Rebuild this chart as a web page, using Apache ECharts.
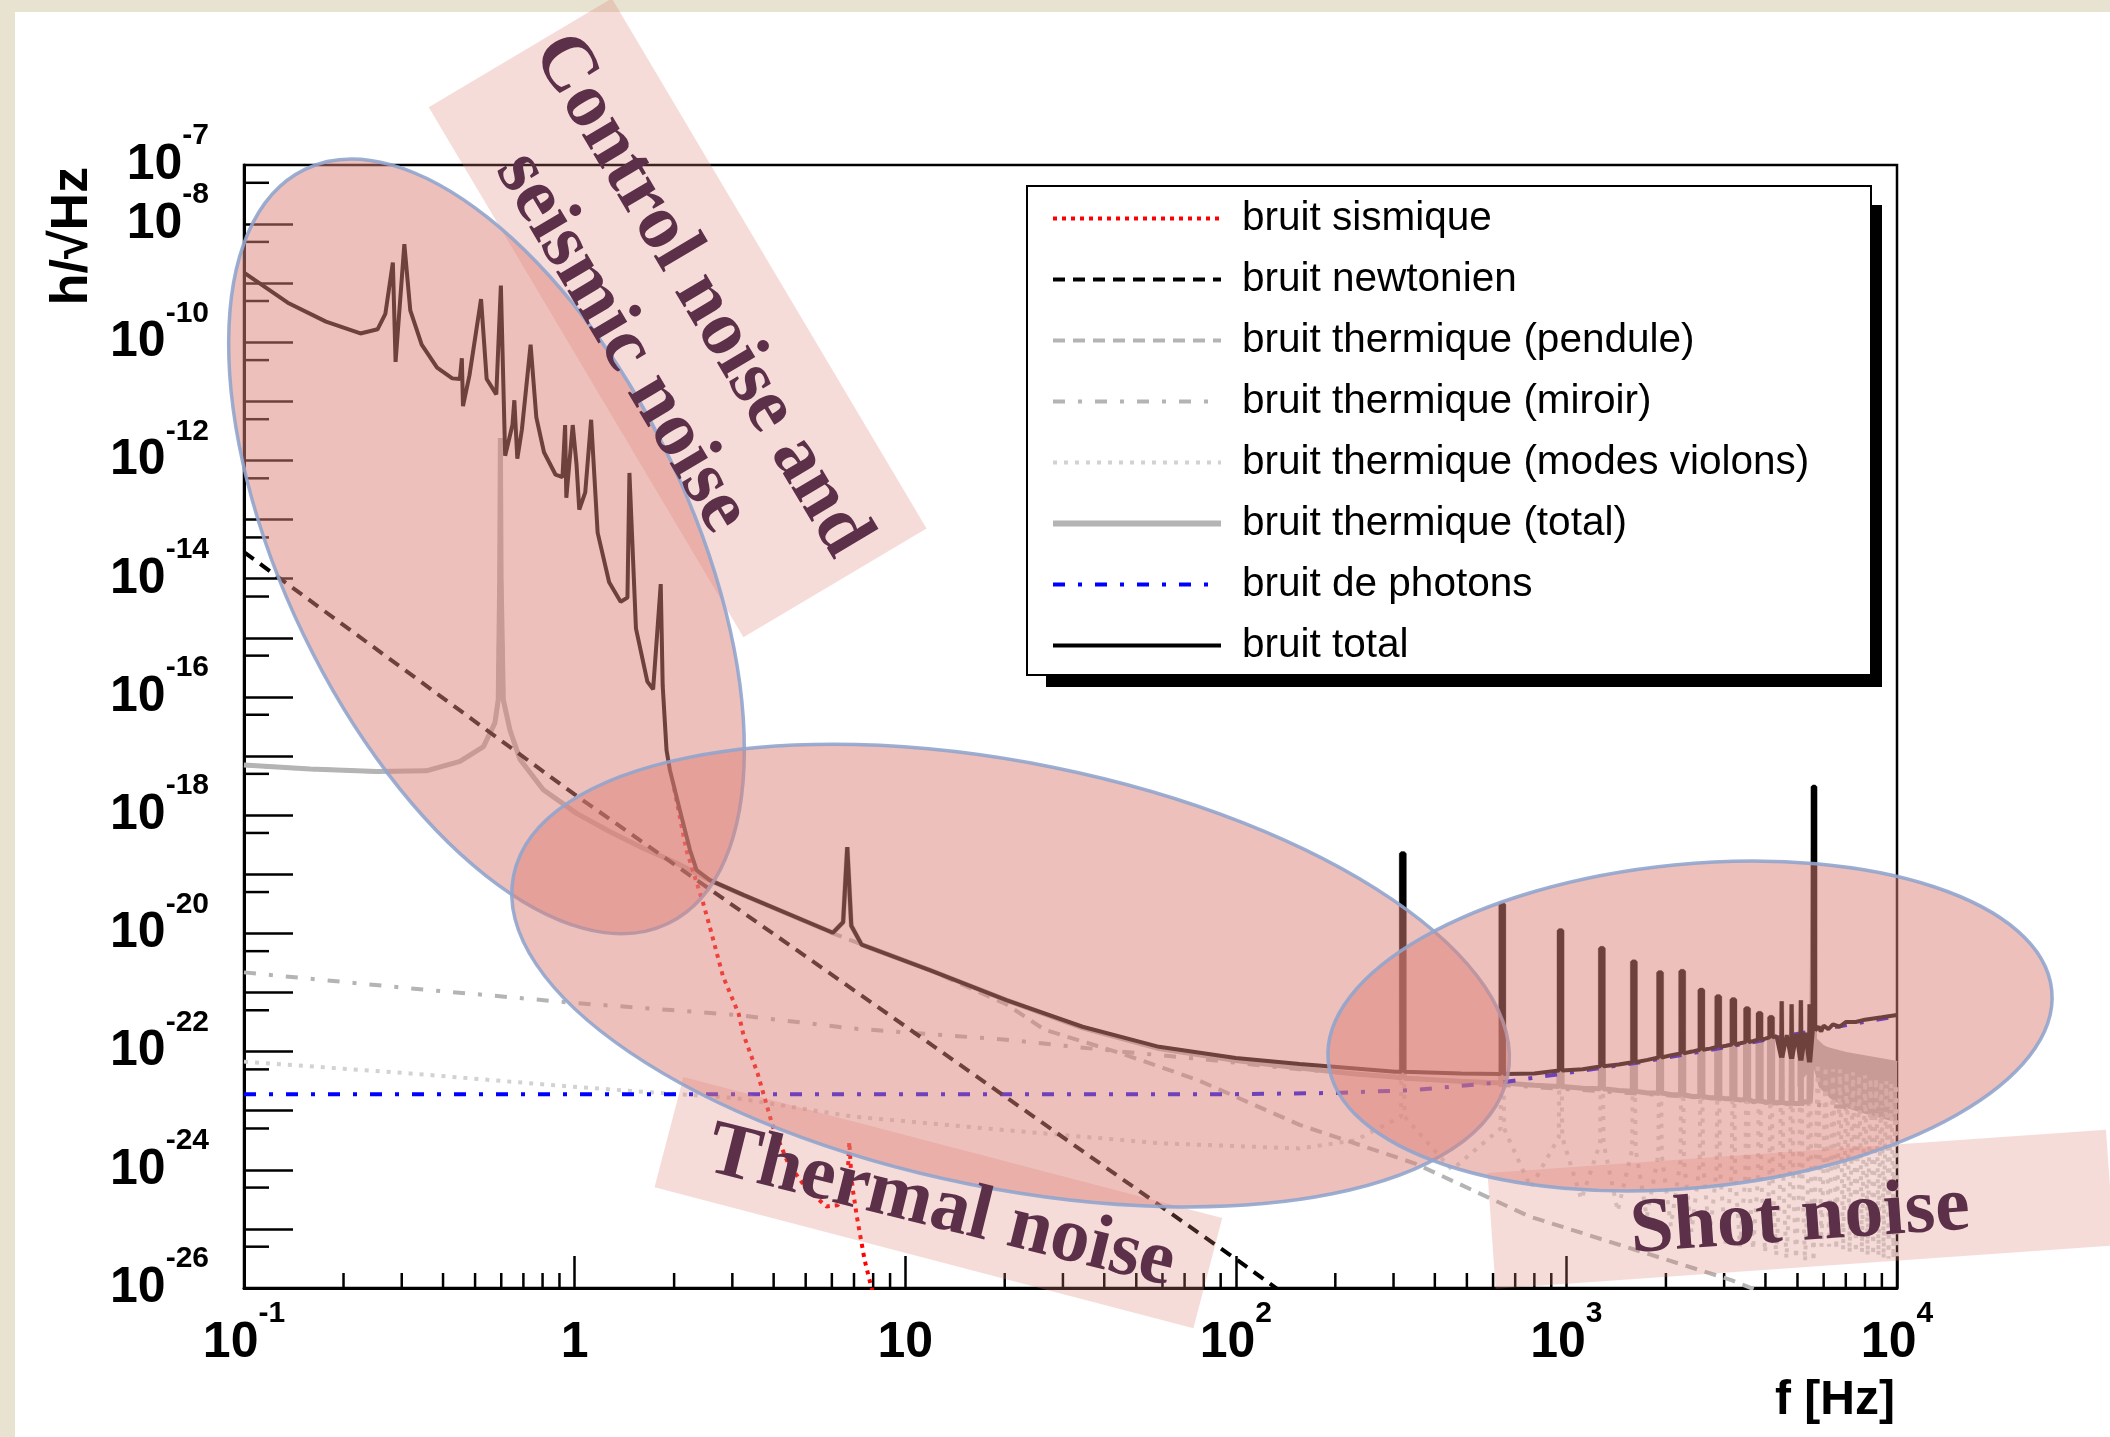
<!DOCTYPE html>
<html>
<head>
<meta charset="utf-8">
<script src="https://cdn.jsdelivr.net/npm/echarts@6/dist/echarts.min.js"></script>
<style>
  html, body { margin: 0; padding: 0; width: 2110px; height: 1437px; overflow: hidden; background: #e8e2d0; }
  #paper { position: absolute; left: 15px; top: 12px; width: 2095px; height: 1425px; background: #fff; }
  #chart { position: absolute; left: 0; top: 0; width: 2110px; height: 1437px; }
</style>
</head>
<body>
<div id="paper"></div>
<div id="chart"></div>
<script>
// frequencies in Hz, amplitudes given as log10(h / sqrt(Hz))

// bruit total (low-frequency part + smooth baseline)
var totalF = [0.1, 0.1356, 0.177, 0.225, 0.2535, 0.2676, 0.282, 0.2874, 0.3055, 0.3184, 0.3447, 0.3837, 0.4266, 0.4498, 0.456, 0.4596, 0.4808, 0.5212, 0.542, 0.5796, 0.5984, 0.6165, 0.6486, 0.6572, 0.671, 0.693, 0.736, 0.766, 0.808, 0.876, 0.919, 0.936, 0.944, 0.987, 1.013, 1.033, 1.077, 1.122, 1.174, 1.272, 1.378, 1.445, 1.465, 1.533, 1.66, 1.728, 1.822, 1.847, 1.897, 1.941, 2.08, 2.234, 2.339, 2.564, 3.236, 6.04, 6.49, 6.68, 6.87, 7.38, 11.86, 20.23, 34.4, 58.6, 100, 156, 304, 480, 800, 1120, 1440, 1760, 2080, 2400, 2720, 3040, 3360, 3680, 4000, 4320, 4640, 4960, 5280, 5560, 5560, 5660, 5660, 5800, 5900, 6000, 6200, 6400, 6700, 7000, 7500, 8000, 9000, 10000];
var totalLogH = [-8.82, -9.33, -9.65, -9.85, -9.78, -9.52, -8.65, -10.33, -8.34, -9.46, -10.04, -10.43, -10.61, -10.62, -10.27, -11.08, -10.56, -9.27, -10.62, -10.88, -9.04, -11.92, -11.40, -10.98, -11.97, -11.47, -10.04, -11.27, -11.86, -12.24, -12.28, -11.40, -12.63, -11.40, -12.05, -12.83, -12.54, -11.31, -13.22, -14.06, -14.39, -14.32, -12.21, -14.84, -15.74, -15.87, -14.09, -15.81, -16.90, -17.23, -17.91, -18.59, -18.93, -19.10, -19.35, -19.99, -19.81, -18.54, -19.87, -20.19, -20.62, -21.13, -21.58, -21.92, -22.11, -22.21, -22.34, -22.37, -22.37, -22.30, -22.22, -22.14, -22.06, -22.00, -21.95, -21.90, -21.86, -21.82, -21.78, -21.74, -21.72, -21.70, -21.68, -21.66, -17.52, -17.52, -21.64, -21.58, -21.66, -21.56, -21.62, -21.54, -21.58, -21.50, -21.50, -21.46, -21.42, -21.38];

// violin-mode harmonics (spikes)
var harmF = [320, 640, 960, 1280, 1600, 1920, 2240, 2560, 2880, 3200, 3520, 3840, 4160];
var harmTop = [-18.65, -19.51, -19.95, -20.25, -20.48, -20.66, -20.64, -20.96, -21.07, -21.12, -21.27, -21.35, -21.42];
var harmBase = [-22.34, -22.38, -22.32, -22.25, -22.18, -22.10, -22.03, -21.97, -21.92, -21.88, -21.84, -21.80, -21.76];
var harmThermBase = [-22.45, -22.53, -22.59, -22.63, -22.67, -22.70, -22.73, -22.76, -22.78, -22.80, -22.81, -22.83, -22.85];
// dense cluster of higher violin harmonics below the 5.6 kHz mirror mode
var clusterF = [4480, 4800, 5120, 5440];
var clusterTop = [-21.15, -21.20, -21.13, -21.20];
var clusterBase = [-22.10, -22.12, -22.15, -22.18];
var clusterThermBase = [-22.86, -22.87, -22.88, -22.86];

// bruit thermique (total)
var thermF = [0.1, 0.1585, 0.252, 0.356, 0.45, 0.53, 0.574, 0.5875, 0.5935, 0.5963, 0.5993, 0.6087, 0.6374, 0.684, 0.804, 1.014, 1.279, 1.613, 2.032, 2.564, 3.236, 6.04, 6.49, 6.68, 6.87, 7.38, 11.86, 20.23, 34.4, 58.6, 100, 156, 230, 304, 480, 800, 1120, 1440, 1760, 2080, 2400, 2720, 3040, 3360, 3680, 4000, 4320, 4640, 4960, 5280, 5500, 5610, 5630, 6000, 7000, 10000];
var thermLogH = [-17.15, -17.22, -17.26, -17.25, -17.09, -16.84, -16.44, -16.05, -14.0, -11.62, -14.0, -16.05, -16.56, -17.06, -17.57, -17.97, -18.28, -18.56, -18.81, -19.10, -19.35, -19.99, -19.81, -18.54, -19.87, -20.19, -20.62, -21.13, -21.60, -21.95, -22.15, -22.28, -22.38, -22.43, -22.50, -22.57, -22.62, -22.66, -22.70, -22.73, -22.76, -22.78, -22.80, -22.82, -22.85, -22.86, -22.87, -22.88, -22.88, -22.85, -22.60, -17.52, -21.80, -21.95, -22.05, -22.20];

// noisy band of the thermal total above the 5.6 kHz mirror mode
var bandF = [5000, 5300, 5610, 5800, 6300, 7000, 8000, 10000];
var bandUpper = [-22.0, -21.85, -21.75, -21.85, -21.95, -22.02, -22.10, -22.20];
var bandLower = [-22.6, -22.4, -22.3, -22.6, -22.8, -22.95, -23.05, -23.20];

// bruit thermique (pendule)
var pendF = [0.1, 0.1585, 0.252, 0.356, 0.45, 0.53, 0.574, 0.5875, 0.5935, 0.5963, 0.5993, 0.6087, 0.6374, 0.684, 0.804, 1.014, 1.279, 1.613, 2.032, 2.564, 3.236, 6.04, 11.86, 20.23, 26.4, 45, 76.6, 156, 347, 773, 3170, 4000];
var pendLogH = [-17.15, -17.22, -17.26, -17.25, -17.09, -16.84, -16.44, -16.05, -14.0, -11.62, -14.0, -16.05, -16.56, -17.06, -17.57, -17.97, -18.28, -18.56, -18.81, -19.10, -19.35, -20.0, -20.62, -21.20, -21.63, -22.03, -22.48, -23.24, -23.89, -24.79, -25.87, -26.10];

// bruit thermique (miroir)
var mirrorF = [0.1, 0.318, 1.014, 3.09, 6.96, 20.23, 45, 76.6, 156, 659, 5000, 10000];
var mirrorLogH = [-20.66, -20.93, -21.18, -21.38, -21.61, -21.80, -22.0, -22.12, -22.30, -22.57, -22.88, -23.0];

// bruit thermique (modes violons)
var violinF = [0.1, 0.318, 1.014, 3.09, 6.96, 20.23, 58.6, 156, 230];
var violinLogH = [-22.17, -22.37, -22.60, -22.79, -23.10, -23.33, -23.55, -23.64, -23.50];
var violinHarmF = [320, 640, 960, 1280, 1600, 1920, 2240, 2560, 2880, 3200, 3520, 3840, 4160, 4480, 4800, 5120, 5440, 5760, 6080, 6400, 6720, 7040, 7360, 7680, 8000, 8320, 8640, 8960, 9280, 9600, 9920];
var violinTop = [-18.65, -19.51, -19.95, -20.25, -20.48, -20.66, -20.64, -20.96, -21.07, -21.12, -21.27, -21.35, -21.42, -21.15, -21.20, -21.13, -21.20, -22.20, -22.25, -22.30, -22.30, -22.35, -22.35, -22.40, -22.40, -22.45, -22.45, -22.50, -22.50, -22.55, -22.55];
var violinSkirt = [-23.1, -23.3, -23.45, -23.55, -23.65, -23.75, -23.85, -23.9, -24.0, -24.05, -24.1, -24.15, -24.2, -24.25, -24.3, -24.3, -24.35, -23.6, -23.7, -23.75, -23.8, -23.85, -23.9, -23.95, -24.0, -24.0, -24.05, -24.1, -24.1, -24.15, -24.15];
var violinDipF = [450, 780, 1110, 1430, 1750, 2070, 2390, 2710, 3030, 3350, 3670, 3990, 4310, 4630, 4950, 5270, 5590, 5910, 6230, 6550, 6870, 7190, 7510, 7830, 8150, 8470, 8790, 9110, 9430, 9750, 10070];
var violinDipLogH = [-24.0, -24.3, -24.5, -24.7, -24.8, -24.95, -25.05, -25.15, -25.25, -25.3, -25.35, -25.4, -25.45, -25.5, -25.5, -25.55, -25.55, -25.3, -25.3, -25.35, -25.35, -25.4, -25.4, -25.4, -25.45, -25.45, -25.45, -25.5, -25.5, -25.5, -25.5];

// bruit de photons
var photonF = [0.1, 100, 200, 347, 659, 1009, 1718, 2931, 4989, 10000];
var photonLogH = [-22.72, -22.72, -22.70, -22.65, -22.51, -22.36, -22.17, -21.94, -21.70, -21.40];

// bruit sismique
var seismicF = [2.0, 2.178, 2.449, 2.564, 2.812, 3.131, 3.236, 3.578, 3.978, 4.426, 5.058, 5.781, 6.252, 6.683, 6.776, 6.871, 6.95, 7.145, 7.54, 7.845, 8.04];
var seismicLogH = [-17.55, -18.59, -19.49, -19.89, -20.73, -21.35, -21.70, -22.37, -23.27, -23.89, -24.34, -24.62, -24.60, -24.20, -23.53, -24.10, -24.35, -24.80, -25.53, -25.92, -26.15];

// bruit newtonien
var newtonF = [0.1, 1, 10, 100, 140];
var newtonLogH = [-13.55, -17.65, -21.57, -25.51, -26.10];

// axis ticks (decades) and minor ticks
var xDecades = [0.1, 1, 10, 100, 1000];
var xMinorMant = [2, 3, 4, 5, 6, 7, 8, 9];
var yMinorTicks = [];
for (var n = -26; n <= -8; n++) yMinorTicks.push(Math.log10(5) + n);
var xMinorTicks = [];
xDecades.forEach(function (d) {
  xMinorMant.forEach(function (m) { xMinorTicks.push(Math.log10(m * d)); });
});

function pairs(f, h) {
  return f.map(function (v, i) { return [Math.log10(v), h[i]]; });
}
function byX(a, b) { return a[0] - b[0]; }
// flat-topped narrow resonance bars
function addBars(pts, f, top, base, w) {
  f.forEach(function (v, i) {
    var l = Math.log10(v * (1 - w)), r = Math.log10(v * (1 + w));
    pts.push([l, base[i]], [l + 1e-7, top[i]], [r - 1e-7, top[i]], [r, base[i]]);
  });
  return pts;
}
// sharp triangular resonances
function addPeaks(pts, f, top, base, w) {
  f.forEach(function (v, i) {
    pts.push([Math.log10(v * (1 - w)), base[i]], [Math.log10(v), top[i]], [Math.log10(v * (1 + w)), base[i]]);
  });
  return pts;
}

var totalData = addPeaks(addBars(pairs(totalF, totalLogH), harmF, harmTop, harmBase, 0.011),
  clusterF, clusterTop, clusterBase, 0.004).sort(byX);
var thermData = addPeaks(addBars(pairs(thermF, thermLogH), harmF, harmTop, harmThermBase, 0.011),
  clusterF, clusterTop, clusterThermBase, 0.004).sort(byX);
var violinData = pairs(violinF, violinLogH);
violinHarmF.forEach(function (v, i) {
  violinData.push([Math.log10(v * 0.988), violinSkirt[i]], [Math.log10(v), violinTop[i]],
    [Math.log10(v * 1.012), violinSkirt[i]], [Math.log10(violinDipF[i]), violinDipLogH[i]]);
});

var FONT = 'Liberation Sans';
var rich = {
  b: { fontFamily: FONT, fontWeight: 'bold', fontSize: 50, lineHeight: 50, color: '#000' },
  s: { fontFamily: FONT, fontWeight: 'bold', fontSize: 30, lineHeight: 30, padding: [0, 0, 58, 0], color: '#000' },
  p: { fontFamily: FONT, fontWeight: 'bold', fontSize: 50, lineHeight: 50, padding: [19, 0, 19, 0], color: '#000' }
};
function powLabel(k) { return '{b|10}{s|' + k + '}'; }

var grey = '#b4b4b4';
var pink = 'rgba(221,130,120,0.5)';
var pinkLight = 'rgba(221,130,120,0.28)';
var rim = 'rgba(145,165,205,0.9)';
var ink = '#5c3049';

function lineSeries(name, data, color, width, type) {
  return {
    name: name, type: 'line', data: data, symbol: 'none', showSymbol: false,
    silent: true, animation: false,
    lineStyle: { color: color, width: width, type: type || 'solid', cap: 'butt' },
    itemStyle: { color: color }
  };
}

var chart = echarts.init(document.getElementById('chart'));
chart.setOption({
  animation: false,
  grid: { left: 244, top: 165, right: 213, bottom: 149, show: true, borderColor: '#000', borderWidth: 2.5, backgroundColor: 'transparent' },
  xAxis: {
    type: 'value', min: -1, max: 4, interval: 1,
    axisLine: { show: true, onZero: false, lineStyle: { color: '#000', width: 3 } },
    axisTick: { show: true, inside: true, length: 32, lineStyle: { color: '#000', width: 2.5 } },
    splitLine: { show: false },
    axisLabel: {
      margin: 30, rich: rich, showMinLabel: true, showMaxLabel: true,
      formatter: function (v) {
        var k = Math.round(v);
        if (k === 0) return '{p|1}';
        if (k === 1) return '{p|10}';
        return powLabel(k);
      }
    }
  },
  yAxis: [{
    type: 'value', min: -26, max: -7, interval: 1, position: 'left',
    axisLine: { show: true, onZero: false, lineStyle: { color: '#000', width: 3 } },
    axisTick: { show: true, inside: true, length: 49, lineStyle: { color: '#000', width: 2.5 } },
    splitLine: { show: false },
    axisLabel: {
      margin: 35, rich: rich, showMinLabel: true, showMaxLabel: false,
      formatter: function (v) {
        var k = Math.round(v);
        if (k === -7 || k % 2 !== 0) return '';
        return powLabel(k);
      }
    }
  }, {
    // the 10^-7 label overlaps 10^-8, so it lives on its own label-only axis
    type: 'value', min: -26, max: -7, interval: 1, position: 'left', offset: 0,
    axisLine: { show: false }, axisTick: { show: false }, splitLine: { show: false },
    axisLabel: {
      margin: 35, rich: rich, showMinLabel: false, showMaxLabel: true,
      formatter: function (v) { return Math.round(v) === -7 ? powLabel(-7) : ''; }
    }
  }],
  legend: {
    data: ['bruit sismique', 'bruit newtonien', 'bruit thermique (pendule)', 'bruit thermique (miroir)',
      'bruit thermique (modes violons)', { name: 'bruit thermique (total)', lineStyle: { width: 6 } },
      'bruit de photons', 'bruit total'],
    orient: 'vertical', left: 1050, top: 198, padding: 0,
    itemWidth: 168, itemHeight: 40, itemGap: 20,
    selectedMode: false, z: 20,
    itemStyle: { opacity: 0 },
    lineStyle: { width: 4 },
    textStyle: { fontFamily: FONT, fontSize: 40.5, lineHeight: 40, color: '#000', padding: [0, 0, 0, 16] }
  },
  series: [
    lineSeries('bruit thermique (modes violons)', violinData, '#d2d2d2', 4, [4, 7]),
    lineSeries('bruit thermique (miroir)', pairs(mirrorF, mirrorLogH), grey, 4, [12, 13, 4, 13]),
    lineSeries('bruit thermique (pendule)', pairs(pendF, pendLogH), grey, 4, [12, 8]),
    {
      type: 'custom', silent: true, animation: false,
      data: [[3.8, -22.5]],
      renderItem: function (params, api) {
        var pts = [];
        for (var i = 0; i < bandF.length; i++) pts.push(api.coord([Math.log10(bandF[i]), bandUpper[i]]));
        for (var j = bandF.length - 1; j >= 0; j--) pts.push(api.coord([Math.log10(bandF[j]), bandLower[j]]));
        return { type: 'polygon', shape: { points: pts }, style: { fill: grey } };
      }
    },
    lineSeries('bruit thermique (total)', thermData, grey, 5),
    lineSeries('bruit de photons', pairs(photonF, photonLogH), '#0000ff', 4, [12, 13, 4, 13]),
    lineSeries('bruit sismique', pairs(seismicF, seismicLogH), '#ff0000', 4, [4, 5]),
    lineSeries('bruit newtonien', pairs(newtonF, newtonLogH), '#000', 4, [12, 8]),
    lineSeries('bruit total', totalData, '#000', 4),
    {
      type: 'custom', silent: true, animation: false, clip: false,
      data: xMinorTicks.map(function (v) { return [v, -26]; }),
      renderItem: function (params, api) {
        var p = api.coord([api.value(0), api.value(1)]);
        return { type: 'line', shape: { x1: p[0], y1: p[1], x2: p[0], y2: p[1] - 15 }, style: { stroke: '#000', lineWidth: 2.5 } };
      }
    },
    {
      type: 'custom', silent: true, animation: false, clip: false,
      data: yMinorTicks.map(function (v) { return [-1, v]; }),
      renderItem: function (params, api) {
        var p = api.coord([api.value(0), api.value(1)]);
        return { type: 'line', shape: { x1: p[0], y1: p[1], x2: p[0] + 25, y2: p[1] }, style: { stroke: '#000', lineWidth: 2.5 } };
      }
    }
  ],
  graphic: [
    // legend shadow and frame
    { type: 'rect', z: 3, shape: { x: 1046, y: 205, width: 836, height: 482 }, style: { fill: '#000' } },
    { type: 'rect', z: 4, shape: { x: 1027, y: 186, width: 844, height: 489 }, style: { fill: '#fff', stroke: '#000', lineWidth: 2 } },
    // axis titles
    { type: 'text', z: 5, x: 73, y: 236, rotation: Math.PI / 2,
      style: { text: 'h/\u221AHz', fontFamily: FONT, fontWeight: 'bold', fontSize: 52, fill: '#000', align: 'center', verticalAlign: 'middle' } },
    { type: 'text', z: 5, x: 1895, y: 1401,
      style: { text: 'f [Hz]', fontFamily: FONT, fontWeight: 'bold', fontSize: 48, fill: '#000', align: 'right', verticalAlign: 'middle' } },
    // annotation bands
    { type: 'rect', z: 30, x: 677.5, y: 317.6, rotation: -1.035,
      shape: { x: -308, y: -106.5, width: 616.5, height: 213 }, style: { fill: pinkLight } },
    { type: 'rect', z: 30, x: 938.4, y: 1202.6, rotation: -0.256,
      shape: { x: -278.5, y: -57, width: 557, height: 114 }, style: { fill: pinkLight } },
    { type: 'rect', z: 30, x: 1800.8, y: 1209.3, rotation: 0.07,
      shape: { x: -310, y: -58, width: 620, height: 116 }, style: { fill: pinkLight } },
    // ellipses
    { type: 'ellipse', z: 31, x: 486.5, y: 546.4, rotation: -1.122,
      shape: { cx: 0, cy: 0, rx: 418.5, ry: 203.2 }, style: { fill: pink, stroke: rim, lineWidth: 3.5 } },
    { type: 'ellipse', z: 31, x: 1010.6, y: 975.6, rotation: -0.199,
      shape: { cx: 0, cy: 0, rx: 507, ry: 212.6 }, style: { fill: pink, stroke: rim, lineWidth: 3.5 } },
    { type: 'ellipse', z: 31, x: 1690, y: 1026, rotation: 0.098,
      shape: { cx: 0, cy: 0, rx: 363.5, ry: 161.8 }, style: { fill: pink, stroke: rim, lineWidth: 3.5 } },
    // annotation texts
    { type: 'text', z: 40, x: 661, y: 319, rotation: -1.035,
      style: { text: 'Control noise and\nseismic noise', fontFamily: 'Liberation Serif', fontWeight: 'bold', fontSize: 78, lineHeight: 92, fill: ink, align: 'center', verticalAlign: 'middle' } },
    { type: 'text', z: 40, x: 941, y: 1208, rotation: -0.244,
      style: { text: 'Thermal noise', fontFamily: 'Liberation Serif', fontWeight: 'bold', fontSize: 78, fill: ink, align: 'center', verticalAlign: 'middle' } },
    { type: 'text', z: 40, x: 1800, y: 1220, rotation: 0.07,
      style: { text: 'Shot noise', fontFamily: 'Liberation Serif', fontWeight: 'bold', fontSize: 78, fill: ink, align: 'center', verticalAlign: 'middle' } }
  ]
});
</script>
</body>
</html>
